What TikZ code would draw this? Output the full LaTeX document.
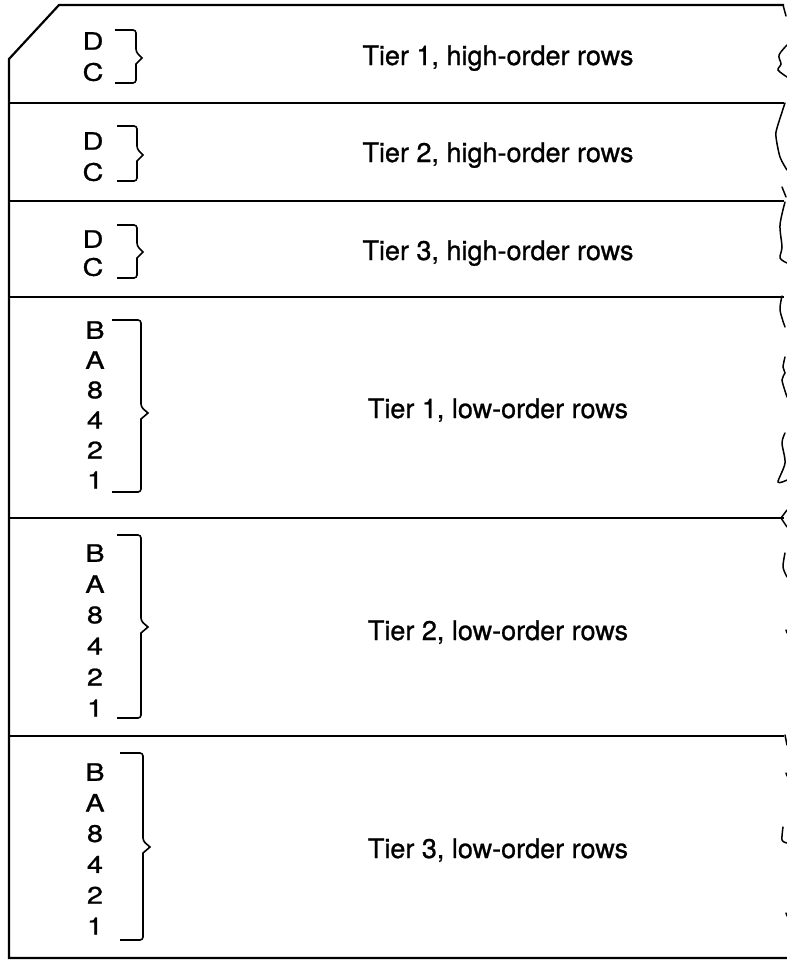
\documentclass[tikz,border=0pt]{standalone}
\usepackage{fontspec}
\setmainfont{TeX Gyre Heros}[FakeBold=0.9]
\usetikzlibrary{positioning}

\begin{document}
\begin{tikzpicture}[
    x=1pt, y=-1pt,
    card/.style={line width=2.2pt, black},
    brc/.style={line width=1.6pt, black, rounded corners=3pt},
    torn/.style={line width=1.5pt, black, line cap=round},
    bit/.style={font=\fontsize{24}{24}\selectfont, inner sep=0pt},
    tierlbl/.style={font=\fontsize{27}{27}\selectfont, inner sep=0pt, anchor=base},
]
\useasboundingbox (0,0) rectangle (787,961);
% card outline and row separators
\draw[card] (784,5) -- (59,5) -- (9,59) -- (9,958) -- (787,958);
\foreach \yy in {103,201,297,518,736}
  \draw[card] (9,\yy) -- (784,\yy);
% torn right edge
\draw[torn] plot[smooth] coordinates {(783,5) (786,16)};
\draw[torn] plot[smooth] coordinates {(787,45) (779,55) (781,64) (778,70) (787,77)};
\draw[torn] plot[smooth] coordinates {(785,103) (777,128) (776,137) (780,157) (787,170)};
\draw[torn] plot[smooth] coordinates {(782,187) (786,197)};
\draw[torn] plot[smooth] coordinates {(785,202) (780,225) (782,247) (780,258) (787,263)};
\draw[torn] plot[smooth] coordinates {(782,296) (780,310) (785,327)};
\draw[torn] plot[smooth] coordinates {(785,357) (783,367) (785,373) (782,380) (787,397)};
\draw[torn] plot[smooth] coordinates {(785,433) (782,443) (785,463) (778,482) (787,480)};
\draw[torn] (787,510) -- (781,518) -- (787,527);
\draw[torn] plot[smooth] coordinates {(785,553) (783,567) (787,577)};
\draw[torn] (785,735) -- (787,745);
\draw[torn] plot[smooth] coordinates {(783,827) (782,840) (787,843)};
\foreach \yy in {630,773,913}
  \draw[torn] (786,\yy) -- (787,\yy+3);
% high-order rows
\foreach \r/\yd/\yc in {1/41/72, 2/141/172, 3/239/267} {
  \node[bit] (d\r) at (93,\yd) {\scalebox{1.2}[1]{D}};
  \node[bit] (c\r) at (93,\yc) {\scalebox{1.2}[1]{C}};
}
\foreach \xa/\xv/\yt/\ym/\yb in {115/136/30/58/83, 117/137/126/155/181, 117/137/225/252/278}
  \draw[brc] (\xa,\yt) -- (\xv,\yt) -- (\xv,\ym-6) [sharp corners] -- (\xv+6,\ym) -- (\xv,\ym+6) [rounded corners=3pt] -- (\xv,\yb) -- (\xa,\yb);
\node[tierlbl] (hi1) at (498,65) {Tier 1, high-order rows};
\node[tierlbl] (hi2) at (498,162) {Tier 2, high-order rows};
\node[tierlbl] (hi3) at (498,260) {Tier 3, high-order rows};
% low-order rows
\foreach \r/\yo/\dy in {4/330/30, 5/553/31, 6/772/30.8} {
  \foreach \bt [count=\k from 0] in {B,A,8,4,2,1}
    \node[bit] (b\r-\k) at (95,\yo+\k*\dy) {\scalebox{1.2}[1]{\bt}};
}
\foreach \xa/\xv/\yt/\ym/\yb in {112/141/320/413/492, 117/141/535/627/718, 120/143/753/847/940}
  \draw[brc] (\xa,\yt) -- (\xv,\yt) -- (\xv,\ym-6) [sharp corners] -- (\xv+7,\ym) -- (\xv,\ym+6) [rounded corners=3pt] -- (\xv,\yb) -- (\xa,\yb);
\node[tierlbl] (lo1) at (498,418) {Tier 1, low-order rows};
\node[tierlbl] (lo2) at (498,640) {Tier 2, low-order rows};
\node[tierlbl] (lo3) at (498,858) {Tier 3, low-order rows};
\end{tikzpicture}
\end{document}
